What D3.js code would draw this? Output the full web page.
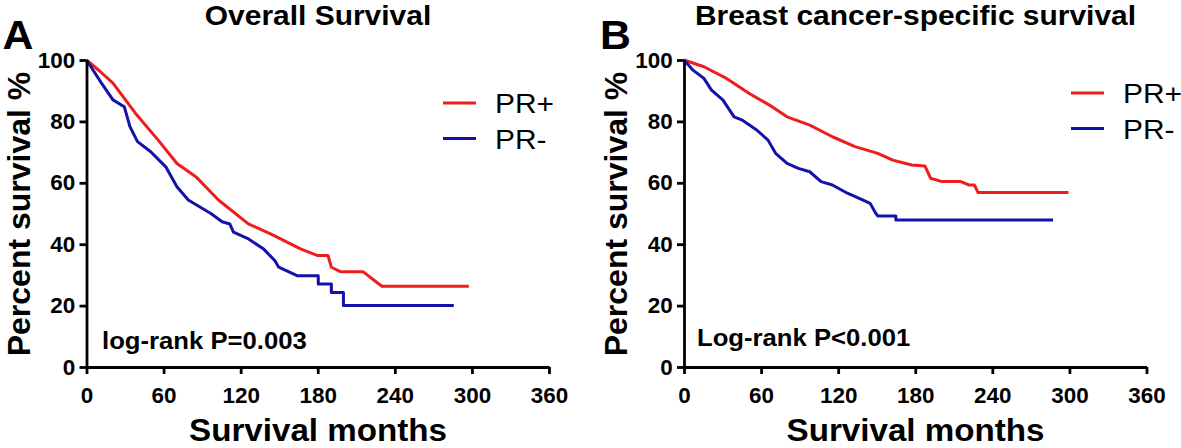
<!DOCTYPE html>
<html>
<head>
<meta charset="utf-8">
<script src="https://cdn.jsdelivr.net/npm/d3@7"></script>
<style>
  body { margin: 0; background: #fff; }
  svg { display: block; font-family: "Liberation Sans", Arial, sans-serif; }
</style>
</head>
<body>
<svg id="chart" width="1181" height="448"></svg>
<script>
// Kaplan-Meier curves: [months, percent surviving]
var osPRpos = [[0, 100], [10, 96.5], [20.6, 92.5], [38.2, 82.6], [55.8, 73.9], [70.4, 66.3], [85.1, 62], [102.7, 54.4],
    [126, 46.6], [143.7, 43.3], [167, 38.4], [180, 36.3], [188, 36.3], [190.6, 32.5], [198, 31], [215.5, 31],
    [225.8, 27.6], [230, 26.3], [297.6, 26.3]];
var osPRneg = [[0, 100], [11.8, 92.4], [20.6, 87], [29.4, 84.8], [33.8, 78.3], [39.7, 73.4], [50, 70.1], [61.7, 65.2],
    [70.4, 58.7], [79.2, 54.4], [88, 52.2], [96.8, 50], [105.6, 47.3], [111.5, 46.6], [114.4, 43.9], [126.1, 41.7],
    [137.9, 38.4], [146.7, 34.6], [149.6, 32.5], [155.5, 31.4], [164.3, 29.7], [180.4, 29.7], [180.4, 27],
    [190.6, 27], [190.6, 24.3], [200, 24.3], [200, 20], [285.9, 20]];
var bcssPRpos = [[0, 100], [15.5, 97.8], [33.1, 94], [50.8, 89.1], [68.5, 84.8], [80.2, 81.5], [97.9, 78.8], [115.5, 75],
    [133.1, 71.8], [150.8, 69.6], [162.5, 67.4], [177.2, 65.8], [187.5, 65.5], [191.9, 61.5], [200.8, 60.4],
    [215.5, 60.4], [221.6, 59.3], [226, 59.3], [228.9, 56.8], [299.3, 56.8]];
var bcssPRneg = [[0, 100], [7, 96.7], [15.5, 94], [21.4, 90.2], [30.2, 87], [39, 81.5], [44.9, 80.5], [56.6, 77.2],
    [65.4, 73.9], [71.3, 69.6], [80.2, 66.3], [89, 64.7], [97.9, 63.6], [106.7, 60.4], [115.5, 59.3], [127.2, 56.6],
    [139, 54.4], [144.9, 53.3], [149.2, 50.1], [150.8, 49.2], [164.9, 49.2], [164.9, 47.9], [287.3, 47.9]];

var xTicks = [0, 60, 120, 180, 240, 300, 360];
var yTicks = [0, 20, 40, 60, 80, 100];
var groupNames = ["PR+", "PR-"];
var groupColors = ["#ee1c1c", "#1212aa"];

var svg = d3.select("#chart");
var sx = 1.07; // the picture is a little wider than tall

function label(g, txt, x, y, size, weight, anchor) {
    return g.append("text")
        .attr("transform", "translate(" + x + "," + y + ") scale(" + sx + ",1)")
        .attr("text-anchor", anchor || "start")
        .attr("font-size", size)
        .attr("font-weight", weight)
        .text(txt);
}

function panel(opts) {
    var g = svg.append("g").attr("transform", "translate(" + opts.left + ",0)");
    var x = d3.scaleLinear().domain([0, 360]).range([0, 462.5]);
    var y = d3.scaleLinear().domain([0, 100]).range([367, 60]);

    var line = d3.line()
        .x(function (d) { return x(d[0]); })
        .y(function (d) { return y(d[1]); });

    opts.curves.forEach(function (c, i) {
        g.append("path")
            .attr("d", line(c))
            .attr("fill", "none")
            .attr("stroke", groupColors[i])
            .attr("stroke-width", 3)
            .attr("stroke-linejoin", "round");
    });

    var ya = g.append("g").call(d3.axisLeft(y).tickValues(yTicks).tickSize(7).tickPadding(4).tickSizeOuter(0));
    var xa = g.append("g").attr("transform", "translate(0,367)")
        .call(d3.axisBottom(x).tickValues(xTicks).tickSize(7).tickPadding(13).tickSizeOuter(0));
    [ya, xa].forEach(function (a) {
        a.select(".domain").attr("stroke", "#000").attr("stroke-width", 2.8);
        a.selectAll(".tick line").attr("stroke", "#000").attr("stroke-width", 2.8);
        a.selectAll(".tick text")
            .attr("fill", "#000")
            .attr("font-size", 22)
            .attr("font-weight", "bold")
            .attr("font-family", "Liberation Sans, Arial, sans-serif")
            .attr("transform", "scale(1.02,1)");
    });

    label(g, opts.title, 231.5, 25, 28, "bold", "middle");
    label(g, opts.letter, -84, 49, 40, "bold");
    label(g, "Survival months", 231.5, 441, 31, "bold", "middle");
    g.append("text")
        .attr("transform", "translate(-57,214) rotate(-90)")
        .attr("text-anchor", "middle")
        .attr("font-size", 32)
        .attr("font-weight", "bold")
        .text("Percent survival %");
    label(g, opts.pText, opts.pX, opts.pY, 24, "bold");

    // legend
    groupNames.forEach(function (n, i) {
        var ly = opts.legY + i * 35.5;
        g.append("line")
            .attr("x1", opts.legX).attr("x2", opts.legX + 33)
            .attr("y1", ly).attr("y2", ly)
            .attr("stroke", groupColors[i]).attr("stroke-width", 3);
        label(g, n, opts.legX + 52, ly + 10, 28, "normal");
    });
}

panel({ left: 86.5, letter: "A", title: "Overall Survival", curves: [osPRpos, osPRneg],
    pText: "log-rank P=0.003", pX: 15.5, pY: 349, legX: 356.5, legY: 103 });
panel({ left: 684, letter: "B", title: "Breast cancer-specific survival", curves: [bcssPRpos, bcssPRneg],
    pText: "Log-rank P<0.001", pX: 13, pY: 346, legX: 387, legY: 93 });
</script>
</body>
</html>
